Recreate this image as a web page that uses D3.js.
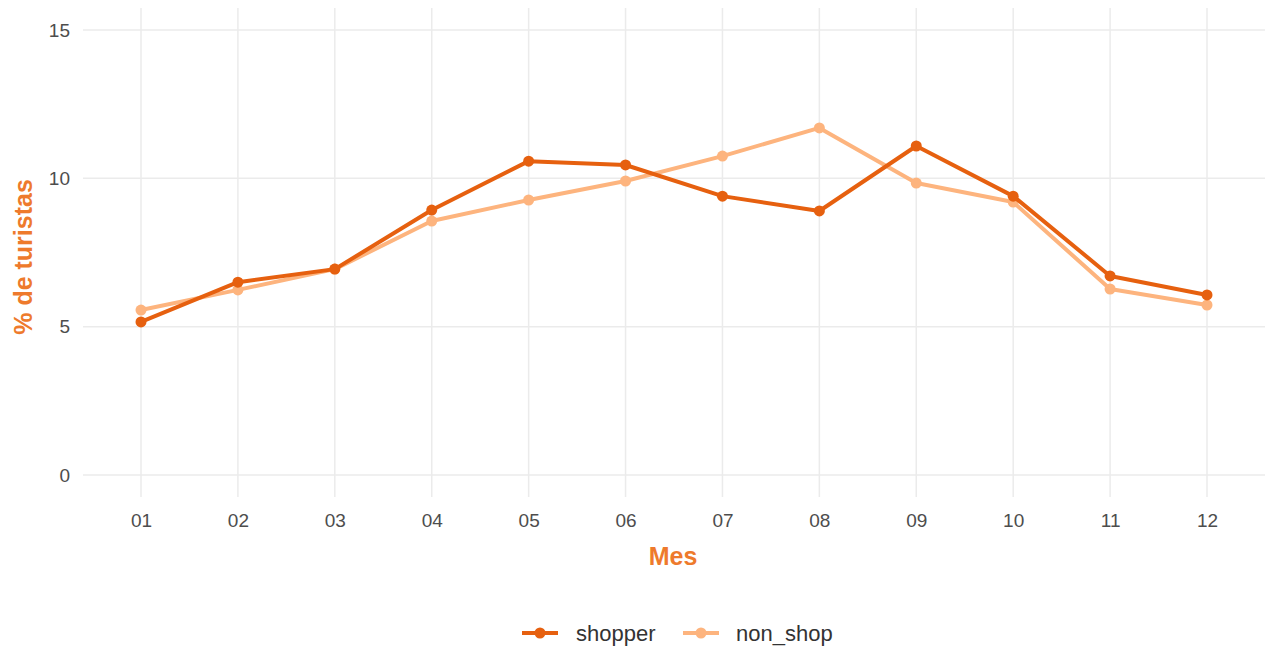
<!DOCTYPE html>
<html><head><meta charset="utf-8">
<script src="https://cdn.jsdelivr.net/npm/d3@7"></script>
<style>body{margin:0;background:#fff;} svg{display:block;}</style>
</head><body>
<svg id="chart" width="1266" height="650"></svg>
<script>
const months = ["01","02","03","04","05","06","07","08","09","10","11","12"];
const shopper = [5.16, 6.50, 6.94, 8.93, 10.58, 10.45, 9.40, 8.90, 11.09, 9.40, 6.71, 6.07];
const nonShop = [5.56, 6.24, 6.94, 8.56, 9.27, 9.91, 10.75, 11.70, 9.84, 9.20, 6.27, 5.73];
const yTicks = [0, 5, 10, 15];
const seriesNames = ["shopper", "non_shop"];
const seriesColors = ["#E6600F", "#FDB47E"];

const FONT = "Arial, 'Liberation Sans', sans-serif";
const svg = d3.select("#chart");
const panel = {left: 83, right: 1265, top: 8, bottom: 497};

const x = d3.scalePoint().domain(months).range([141, 1207]);
const y = d3.scaleLinear().domain([0, 15]).range([475, 30]);

// grid
svg.append("g").selectAll("line").data(yTicks).join("line")
  .attr("x1", panel.left).attr("x2", panel.right)
  .attr("y1", d => y(d)).attr("y2", d => y(d))
  .attr("stroke", "#ebebeb").attr("stroke-width", 1.5);
svg.append("g").selectAll("line").data(months).join("line")
  .attr("x1", d => x(d)).attr("x2", d => x(d))
  .attr("y1", panel.top).attr("y2", panel.bottom)
  .attr("stroke", "#ebebeb").attr("stroke-width", 1.5);

// axes
const yAxis = d3.axisLeft(y).tickValues(yTicks).tickSize(0).tickPadding(0);
const gy = svg.append("g").attr("transform", "translate(70,0)").call(yAxis);
gy.select(".domain").remove();
gy.selectAll("text").attr("fill", "#4d4d4d").style("font-family", FONT).style("font-size", "19px");

const xAxis = d3.axisBottom(x).tickSize(0).tickPadding(0);
const gx = svg.append("g").attr("transform", "translate(0,513)").call(xAxis);
gx.select(".domain").remove();
gx.selectAll("text").attr("fill", "#4d4d4d").style("font-family", FONT).style("font-size", "19px");

// titles
svg.append("text").attr("x", 673).attr("y", 565).attr("text-anchor", "middle")
  .attr("fill", "#EE7A2C").style("font-family", FONT)
  .style("font-size", "25px").style("font-weight", "bold").text("Mes");
svg.append("text").attr("transform", "translate(32,257) rotate(-90)").attr("text-anchor", "middle")
  .attr("fill", "#EE7A2C").style("font-family", FONT)
  .style("font-size", "25px").style("font-weight", "bold").text("% de turistas");

// lines
const data = [shopper, nonShop];
const line = d3.line().x((d, i) => x(months[i])).y(d => y(d));
[1, 0].forEach(s => {
  svg.append("path").datum(data[s]).attr("d", line)
    .attr("fill", "none").attr("stroke", seriesColors[s]).attr("stroke-width", 4)
    .attr("stroke-linejoin", "round");
  svg.append("g").selectAll("circle").data(data[s]).join("circle")
    .attr("cx", (d, i) => x(months[i])).attr("cy", d => y(d)).attr("r", 5.5)
    .attr("fill", seriesColors[s]);
});

// legend
const legendItems = [{k: 522, t: 576}, {k: 683, t: 736}];
seriesNames.forEach((n, i) => {
  const g = svg.append("g");
  g.append("line").attr("x1", legendItems[i].k).attr("x2", legendItems[i].k + 36)
    .attr("y1", 633).attr("y2", 633).attr("stroke", seriesColors[i]).attr("stroke-width", 4);
  g.append("circle").attr("cx", legendItems[i].k + 18).attr("cy", 633).attr("r", 5.5).attr("fill", seriesColors[i]);
  g.append("text").attr("x", legendItems[i].t).attr("y", 641).attr("fill", "#333")
    .style("font-family", FONT).style("font-size", "22px").text(n);
});
</script>
</body></html>
